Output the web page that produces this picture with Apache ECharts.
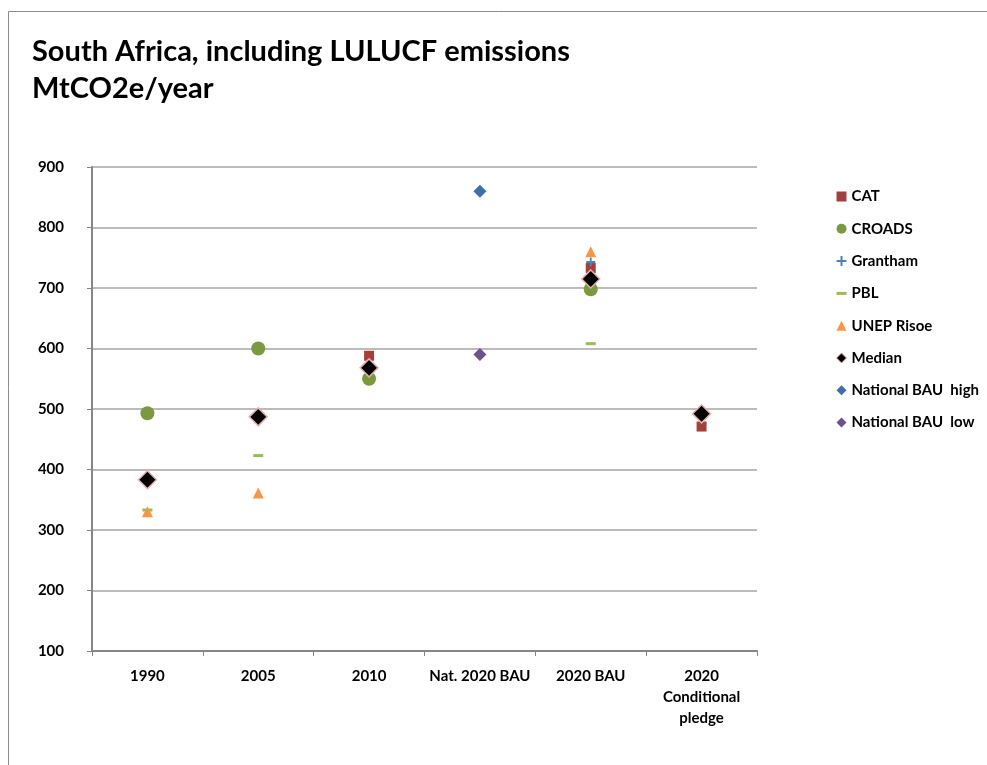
<!DOCTYPE html>
<html>
<head>
<meta charset="utf-8">
<script src="https://cdn.jsdelivr.net/npm/echarts@6/dist/echarts.min.js"></script>
<style>
  html, body { margin: 0; padding: 0; background: #ffffff; }
  #chart { width: 987px; height: 765px; }
</style>
</head>
<body>
<div id="chart"></div>
<script>
// Categories along the horizontal axis
const categories = ['1990', '2005', '2010', 'Nat. 2020 BAU', '2020 BAU', '2020\nConditional\npledge'];

// Emission estimates, MtCO2e/year (null = no estimate)
const catValues       = [null, null, 588, null, 733, 471];
const croadsValues    = [493, 600, 550, null, 698, null];
const granthamValues  = [null, null, null, null, 743, null];
const pblValues       = [333, 423, null, null, 608, null];
const unepValues      = [330, 361, null, null, 760, null];
const medianValues    = [383, 487, 568, null, 715, 492];
const bauHighValues   = [null, null, null, 860, null, null];
const bauLowValues    = [null, null, null, 590, null, null];

// Value axis ticks
const yMin = 100, yMax = 900, yStep = 100;

const FONT = 'Lato, "Liberation Sans", sans-serif';
const plusPath = 'path://M4,0 L6,0 L6,4 L10,4 L10,6 L6,6 L6,10 L4,10 L4,6 L0,6 L0,4 L4,4 Z';

function scatter(name, data, symbol, size, color, extra) {
  return Object.assign({
    name: name,
    type: 'scatter',
    data: data,
    symbol: symbol,
    symbolSize: size,
    itemStyle: { color: color, opacity: 1 },
    emphasis: { disabled: true }
  }, extra || {});
}

const chart = echarts.init(document.getElementById('chart'), null, { renderer: 'canvas' });

chart.setOption({
  animation: false,
  backgroundColor: '#ffffff',
  textStyle: { fontFamily: FONT },
  graphic: [{
    type: 'rect',
    shape: { x: 8.5, y: 11.5, width: 1200, height: 1000 },
    style: { fill: 'none', stroke: '#8c8c8c', lineWidth: 1 },
    silent: true
  }],
  title: {
    text: 'South Africa, including LULUCF emissions\nMtCO2e/year',
    left: 27,
    top: 28,
    textStyle: {
      fontFamily: FONT,
      fontSize: 29,
      fontWeight: 'bold',
      color: '#000000',
      lineHeight: 37
    }
  },
  grid: { left: 92, right: 230, top: 167, bottom: 114, containLabel: false },
  xAxis: {
    type: 'category',
    data: categories,
    boundaryGap: true,
    axisLine: { lineStyle: { color: '#868686', width: 2 } },
    axisTick: { show: true, length: 5, alignWithLabel: false, lineStyle: { color: '#868686', width: 1 } },
    axisLabel: {
      interval: 0,
      margin: 15,
      fontFamily: FONT,
      fontSize: 15,
      fontWeight: 'bold',
      color: '#000000',
      lineHeight: 21
    },
    splitLine: { show: false }
  },
  yAxis: {
    type: 'value',
    min: yMin,
    max: yMax,
    interval: yStep,
    axisLine: { show: true, lineStyle: { color: '#868686', width: 2 } },
    axisTick: { show: true, length: 5, lineStyle: { color: '#868686', width: 1 } },
    axisLabel: {
      margin: 28,
      fontFamily: FONT,
      fontSize: 15,
      fontWeight: 'bold',
      color: '#000000'
    },
    splitLine: { show: true, lineStyle: { color: '#a6a6a6', width: 1.5 } }
  },
  legend: {
    orient: 'vertical',
    left: 831,
    top: 184,
    itemWidth: 10,
    itemHeight: 10,
    itemGap: 17.3,
    selectedMode: false,
    textStyle: {
      fontFamily: FONT,
      fontSize: 15,
      fontWeight: 'bold',
      color: '#000000',
      lineHeight: 15
    },
    data: [
      { name: 'CAT', icon: 'rect' },
      { name: 'CROADS', icon: 'circle' },
      { name: 'Grantham', icon: plusPath },
      { name: 'PBL', icon: 'path://M0,4 L10,4 L10,7 L0,7 Z' },
      { name: 'UNEP Risoe', icon: 'triangle' },
      { name: 'Median', icon: 'diamond', itemStyle: { borderColor: '#e6b0ae', borderWidth: 1 } },
      { name: 'National BAU  high', icon: 'diamond' },
      { name: 'National BAU  low', icon: 'diamond' }
    ]
  },
  series: [
    scatter('CAT', catValues, 'rect', 10, '#a4403c'),
    scatter('CROADS', croadsValues, 'circle', 14, '#7b9a3f'),
    scatter('Grantham', granthamValues, plusPath, 9, '#4f81bd'),
    scatter('PBL', pblValues, 'rect', [10, 3], '#9bbb59'),
    scatter('UNEP Risoe', unepValues, 'triangle', [11, 11], '#f79646'),
    scatter('Median', medianValues, 'diamond', 18, '#000000', {
      itemStyle: { color: '#000000', opacity: 1, borderColor: '#e6b0ae', borderWidth: 1.5 }
    }),
    scatter('National BAU  high', bauHighValues, 'diamond', 13, '#3f6fa8'),
    scatter('National BAU  low', bauLowValues, 'diamond', 13, '#6e508d')
  ]
});
</script>
</body>
</html>
